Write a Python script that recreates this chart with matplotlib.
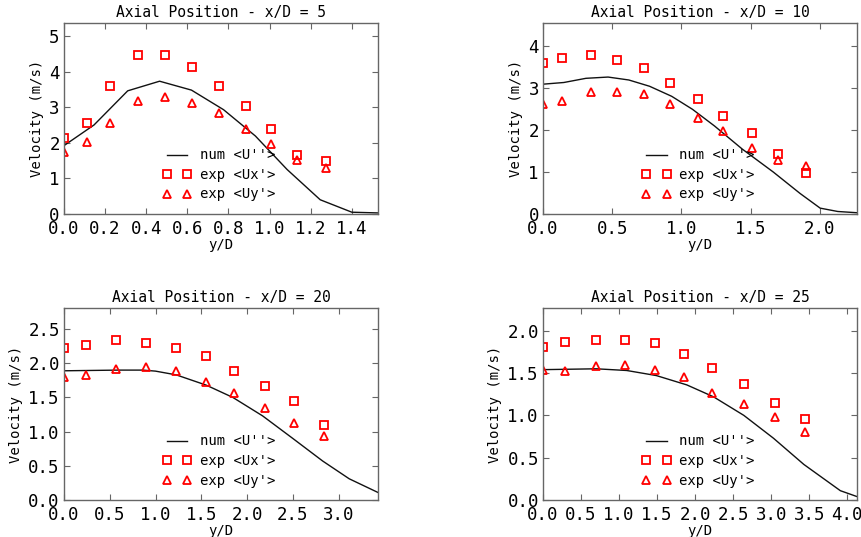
import matplotlib
matplotlib.use('Agg')
import matplotlib.pyplot as plt
from matplotlib.ticker import MultipleLocator
from matplotlib.lines import Line2D
from matplotlib.legend_handler import HandlerLine2D

plt.rcParams['font.family'] = 'DejaVu Sans Mono'

TITLES = ['Axial Position - x/D = 5', 'Axial Position - x/D = 10',
          'Axial Position - x/D = 20', 'Axial Position - x/D = 25']

# x/D = 5
num5_x = [0.0, 0.146, 0.31, 0.465, 0.62, 0.776, 0.931, 1.085, 1.246, 1.40, 1.527]
num5_u = [1.92, 2.50, 3.46, 3.73, 3.48, 2.93, 2.19, 1.25, 0.40, 0.05, 0.03]
exp5_x = [0.0, 0.113, 0.225, 0.361, 0.49, 0.623, 0.752, 0.884, 1.006, 1.135, 1.274]
exp5_ux = [2.13, 2.55, 3.59, 4.47, 4.46, 4.13, 3.59, 3.03, 2.38, 1.66, 1.48]
exp5_uy = [1.75, 2.01, 2.57, 3.18, 3.28, 3.13, 2.84, 2.40, 1.96, 1.52, 1.29]

# x/D = 10
num10_x = [0.0, 0.15, 0.31, 0.47, 0.62, 0.77, 0.93, 1.08, 1.24, 1.44, 1.665, 1.858, 2.003, 2.13, 2.27]
num10_u = [3.10, 3.14, 3.24, 3.27, 3.20, 3.05, 2.81, 2.50, 2.10, 1.55, 1.00, 0.49, 0.14, 0.06, 0.03]
exp10_x = [0.0, 0.14, 0.348, 0.535, 0.728, 0.92, 1.12, 1.30, 1.51, 1.70, 1.90]
exp10_ux = [3.61, 3.72, 3.80, 3.67, 3.49, 3.14, 2.75, 2.33, 1.93, 1.44, 0.98]
exp10_uy = [2.62, 2.69, 2.92, 2.92, 2.87, 2.62, 2.29, 1.99, 1.57, 1.29, 1.15]

# x/D = 20
num20_x = [0.0, 0.3, 0.6, 0.86, 1.0, 1.227, 1.554, 1.845, 2.17, 2.50, 2.826, 3.116, 3.43]
num20_u = [1.89, 1.895, 1.90, 1.90, 1.885, 1.83, 1.68, 1.50, 1.23, 0.90, 0.57, 0.31, 0.11]
exp20_x = [0.0, 0.245, 0.573, 0.893, 1.227, 1.554, 1.856, 2.20, 2.517, 2.844]
exp20_ux = [2.23, 2.26, 2.34, 2.30, 2.22, 2.11, 1.88, 1.67, 1.45, 1.10]
exp20_uy = [1.80, 1.83, 1.91, 1.94, 1.89, 1.73, 1.57, 1.34, 1.13, 0.94]

# x/D = 25
num25_x = [0.0, 0.35, 0.70, 1.10, 1.49, 1.89, 2.24, 2.64, 3.03, 3.43, 3.91, 4.13]
num25_u = [1.54, 1.545, 1.55, 1.53, 1.47, 1.36, 1.22, 1.00, 0.73, 0.42, 0.11, 0.04]
exp25_x = [0.0, 0.293, 0.69, 1.08, 1.47, 1.857, 2.227, 2.64, 3.045, 3.45]
exp25_ux = [1.81, 1.87, 1.89, 1.89, 1.855, 1.72, 1.565, 1.37, 1.15, 0.957]
exp25_uy = [1.53, 1.525, 1.58, 1.60, 1.54, 1.455, 1.27, 1.13, 0.98, 0.80]

DATA = [
    (num5_x, num5_u, exp5_x, exp5_ux, exp5_uy),
    (num10_x, num10_u, exp10_x, exp10_ux, exp10_uy),
    (num20_x, num20_u, exp20_x, exp20_ux, exp20_uy),
    (num25_x, num25_u, exp25_x, exp25_ux, exp25_uy),
]

X_STEP = [0.2, 0.5, 0.5, 0.5]
Y_STEP = [1, 1, 0.5, 0.5]

# axes rectangles in figure fraction (left, bottom, width, height)
RECTS = [
    (0.0742, 0.6015, 0.3643, 0.3556),
    (0.6300, 0.6015, 0.3643, 0.3556),
    (0.0742, 0.0689, 0.3643, 0.3575),
    (0.6300, 0.0689, 0.3643, 0.3575),
]


def plot_profile(ax, i):
    nx, nu, ex, eux, euy = DATA[i]

    ax.plot(nx, nu, color='#111111', lw=1.0, label="num <U''>")
    ax.plot(ex, eux, 's', mfc='none', mec='red', mew=1.3, ms=5.2,
            label="exp <Ux'>")
    ax.plot(ex, euy, '^', mfc='none', mec='red', mew=1.3, ms=5.2,
            label="exp <Uy'>")

    ax.set_xlim(0, max(nx))
    ax.set_ylim(0, 1.2 * max(eux))
    ax.xaxis.set_major_locator(MultipleLocator(X_STEP[i]))
    ax.yaxis.set_major_locator(MultipleLocator(Y_STEP[i]))

    ax.tick_params(direction='in', top=True, right=True, length=4,
                   width=0.8, color='#666666', labelsize=12.5)
    ax.tick_params(axis='x', pad=4)
    ax.tick_params(axis='y', pad=3)
    for sp in ax.spines.values():
        sp.set_color('#666666')
        sp.set_linewidth(1.0)

    ax.set_title(TITLES[i], fontsize=10.5, pad=4)
    ax.set_xlabel('y/D', fontsize=10, labelpad=0)
    ax.set_ylabel('Velocity (m/s)', fontsize=10, labelpad=4)

    # old-style legend: markers and line span the whole handle
    ax.legend(loc='lower center', frameon=False, numpoints=2, fontsize=10,
              handlelength=1.5, handletextpad=0.9, labelspacing=0.4,
              handler_map={Line2D: HandlerLine2D(numpoints=2, marker_pad=0)})


def main():
    fig = plt.figure(figsize=(8.62, 5.37), dpi=100)
    for i, rect in enumerate(RECTS):
        ax = fig.add_axes(rect)
        plot_profile(ax, i)
    fig.savefig('out.png', dpi=100)


if __name__ == '__main__':
    main()
